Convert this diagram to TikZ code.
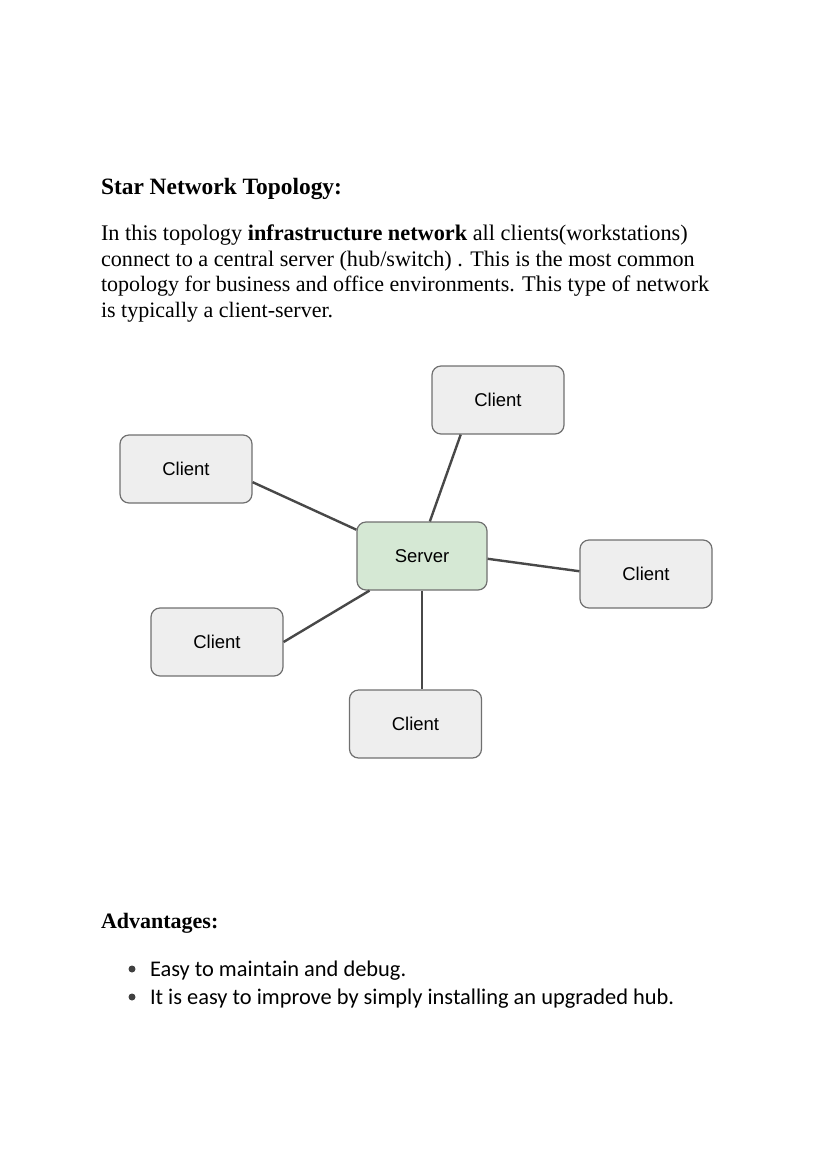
\documentclass[tikz,border=0pt]{standalone}
\usepackage{fontspec}
\setmainfont{Liberation Serif}
\newfontfamily\arialf{Liberation Sans}
\newfontfamily\calibrif{Carlito}
\usetikzlibrary{calc}
\definecolor{boxfill}{HTML}{EEEEEE}
\definecolor{boxline}{HTML}{707070}
\definecolor{srvfill}{HTML}{D5E8D4}
\definecolor{wire}{HTML}{484848}
\tikzset{
  clientbox/.style={draw=boxline, fill=boxfill, rounded corners=9pt, line width=1.2pt,
    minimum width=132pt, minimum height=68pt, inner sep=0pt, font=\arialf\fontsize{18.5}{20}\selectfont},
  serverbox/.style={clientbox, fill=srvfill, minimum width=130pt},
  wireline/.style={draw=wire, line width=2.4pt},
  txt/.style={anchor=base west, inner sep=0pt, outer sep=0pt},
  bulletdot/.style={circle, fill=black!75, inner sep=0pt, minimum size=7pt},
}
\begin{document}
\begin{tikzpicture}[x=1pt,y=-1pt]
\useasboundingbox (0,0) rectangle (828,1171);
% title
\node[txt, font=\fontsize{23.4}{26}\bfseries\selectfont] (title) at (101,194) {Star Network Topology:};
% paragraph
\node[txt, font=\fontsize{22.3}{26}\selectfont] (p1) at (101,240) {In this topology \textbf{infrastructure network} all clients(workstations)};
\node[txt, font=\fontsize{22.2}{26}\selectfont] (p2) at (101,266) {connect to a central server (hub/switch) . This is the most common};
\node[txt, font=\fontsize{22}{26}\selectfont] (p3) at (101,291.5) {topology for business and office environments. {\fontsize{22.4}{26}\selectfont This type of network}};
\node[txt, font=\fontsize{22}{26}\selectfont] (p4) at (101,317) {is typically a client-server.};
% nodes
\node[clientbox] (ctop) at (498,400) {Client};
\node[clientbox] (cleft) at (186,469) {Client};
\node[serverbox] (srv) at (422,556) {Server};
\node[clientbox] (cright) at (646,574) {Client};
\node[clientbox] (clow) at (217,642) {Client};
\node[clientbox] (cbot) at (415.5,724) {Client};
% wires
\draw[wireline] ($(ctop.south west)!0.22!(ctop.south east)$) -- ($(srv.north west)!0.56!(srv.north east)$);
\draw[wireline] ($(cleft.north east)!0.69!(cleft.south east)$) -- ($(srv.north west)!0.12!(srv.south west)$);
\draw[wireline] ($(srv.north east)!0.54!(srv.south east)$) -- ($(cright.north west)!0.46!(cright.south west)$);
\draw[wireline] (clow.east) -- ($(srv.south west)!0.1!(srv.south east)$);
\draw[wireline] (srv.south) -- (srv.south |- cbot.north);
% advantages
\node[txt, font=\fontsize{22}{26}\bfseries\selectfont] (adv) at (101,928) {Advantages:};
\node[bulletdot] (b1) at (132,969) {};
\node[txt, font=\calibrif\fontsize{22.4}{26}\selectfont] (l1) at (150,976) {Easy to maintain and debug.};
\node[bulletdot] (b2) at (132,997) {};
\node[txt, font=\calibrif\fontsize{22.4}{26}\selectfont] (l2) at (150,1004) {It is easy to improve by simply installing an upgraded hub.};
\end{tikzpicture}
\end{document}
